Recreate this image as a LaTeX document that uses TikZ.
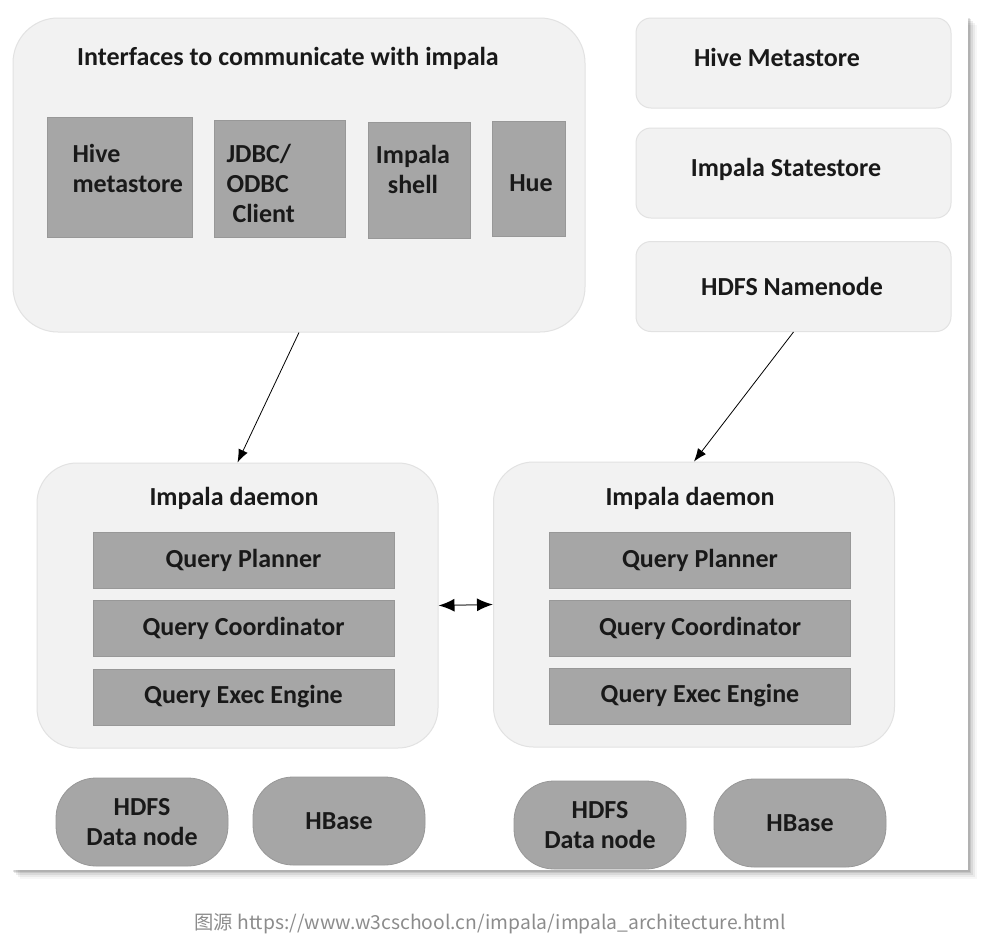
\documentclass[tikz,border=0pt]{standalone}
\usepackage{fontspec}
\setmainfont{Carlito}
\newfontfamily\cjk{Noto Sans CJK SC}
\usetikzlibrary{arrows.meta}
\definecolor{boxbg}{RGB}{242,242,242}
\definecolor{boxln}{RGB}{226,226,226}
\definecolor{blkbg}{RGB}{166,166,166}
\definecolor{blkln}{RGB}{152,152,152}
\definecolor{capgray}{RGB}{140,140,140}
\begin{document}
\begin{tikzpicture}[x=1pt,y=-1pt,
  panel/.style={draw=boxln,fill=boxbg,line width=1pt,inner sep=0pt},
  blk/.style={draw=blkln,fill=blkbg,line width=0.8pt,inner sep=0pt},
  txt/.style={font=\fontsize{26}{30}\selectfont\bfseries,text=black!90},
  svc/.style={panel,rounded corners=15pt,minimum width=315pt,minimum height=90pt},
  daemon/.style={panel,rounded corners=40pt,minimum width=401pt,minimum height=285pt},
  bar/.style={blk,txt,minimum width=301pt,minimum height=56pt},
  store/.style={blk,txt,align=center,rounded corners=40pt,minimum width=172pt,minimum height=88pt},
  head/.tip={Latex[length=13pt,width=10pt]},
  bighead/.tip={Latex[length=16pt,width=13pt,color=black]},
  arr/.style={-head,line width=0.8pt}]
\useasboundingbox (0,0) rectangle (983,940);
% sheet with its shadow
\foreach \s/\o in {9/0.03,7/0.05,5/0.07,3/0.09,1.5/0.1}
  \fill[black,opacity=\o] (11+\s,16+\s) rectangle (968+\s,870+\s);
\fill[white] (11,16) rectangle (968,870);
% interfaces
\node[panel,rounded corners=45pt,minimum width=572pt,minimum height=314pt] (ifc) at (299,175) {};
\node[txt] (ifct) at (288,58) {Interfaces to communicate with impala};
\node[blk,minimum width=145pt,minimum height=120pt] (hms) at (119.5,177) {};
\node[blk,minimum width=131pt,minimum height=117pt] (jdbc) at (279.5,178.5) {};
\node[blk,minimum width=102pt,minimum height=116pt] (ish) at (419,180) {};
\node[blk,minimum width=73pt,minimum height=115pt] (hue) at (528.5,178.5) {};
\node[txt,align=left,anchor=west] (hmst) at (69,168.5) {Hive\\metastore};
\node[txt,align=left,anchor=west] (jdbct) at (223,183) {JDBC/\\ODBC\\\hspace{6pt}Client};
\node[txt,align=center] (isht) at (413,169.5) {Impala\\shell};
\node[txt] (huet) at (531,183) {Hue};
% services on the right
\node[svc] (hive) at (793.5,63) {};
\node[svc] (state) at (793.5,173) {};
\node[svc] (nn) at (793.5,286.5) {};
\node[txt] (hivet) at (777,57) {Hive Metastore};
\node[txt] (statet) at (786,169) {Impala Statestore};
\node[txt] (nnt) at (792,286) {HDFS Namenode};
% daemons
\node[daemon] (dL) at (237.5,605.5) {};
\node[daemon] (dR) at (694,604.5) {};
\node[txt] (dLt) at (234,498) {Impala daemon};
\node[txt] (dRt) at (690,498) {Impala daemon};
\node[bar] (planL) at (243.5,560) {Query Planner};
\node[bar] (coordL) at (243.5,628) {Query Coordinator};
\node[bar] (execL) at (243.5,697) {Query Exec Engine};
\node[bar] (planR) at (700,560) {Query Planner};
\node[bar] (coordR) at (700,628) {Query Coordinator};
\node[bar] (execR) at (700,696) {Query Exec Engine};
% storage
\node[store] (hdfsL) at (142,822) {HDFS\\Data node};
\node[store] (hbL) at (339,821) {HBase};
\node[store] (hdfsR) at (600,825) {HDFS\\Data node};
\node[store] (hbR) at (800,823) {HBase};
% connectors
\draw[arr] (ifc.south) -- (dL.north);
\draw[arr] (nn.south) -- (dR.north);
\draw[bighead-bighead,line width=1.5pt,draw=black!55] (dL.east) -- (dR.west);
\node[font=\cjk\fontsize{19.3}{22}\selectfont,text=capgray] (src) at (490,924) {图源 https://www.w3cschool.cn/impala/impala\_architecture.html};
\end{tikzpicture}
\end{document}
